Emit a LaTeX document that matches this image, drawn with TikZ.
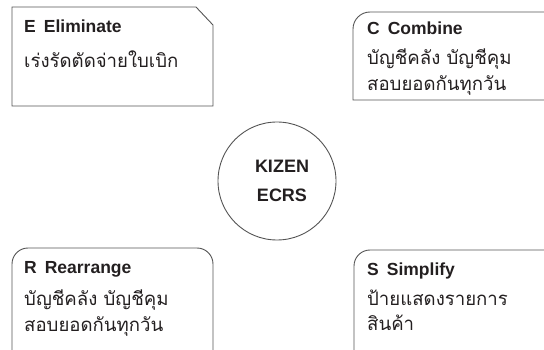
\documentclass[tikz,border=0pt]{standalone}
\usepackage{fontspec}
\setmainfont{Liberation Sans}
\newfontfamily\thaifont[Script=Thai]{Loma}
\definecolor{ink}{HTML}{231F20}
\definecolor{edge}{HTML}{555555}
\begin{document}
\begin{tikzpicture}[x=1pt,y=-1pt,
  box/.style={draw=edge, line width=0.9pt},
  ttl/.style={anchor=base west, inner sep=0pt, text=ink, font=\bfseries\fontsize{17.5}{20}\selectfont},
  th/.style={anchor=base west, inner sep=0pt, text=ink, font=\thaifont\fontsize{18.6}{22}\selectfont},
  ctr/.style={anchor=base, inner sep=0pt, text=ink, font=\bfseries\fontsize{18}{20}\selectfont}]
\useasboundingbox (0,0) rectangle (544,350);
% E box (chamfered top-right)
\draw[box] (12,106) -- (12,7) -- (196,7) -- (213,25) -- (213,106) -- cycle;
% C box (rounded top-left, open to the right)
\draw[box] (560,100) -- (353,100) -- (353,50) [rounded corners=17pt] -- (353,12) -- (560,12);
% R box
\draw[box, rounded corners=16pt] (12,362) -- (12,248) -- (213,248) -- (213,362);
% S box
\draw[box, rounded corners=16pt] (354,362) -- (354,250) -- (560,250);
% centre circle
\node[circle, draw=edge, line width=0.9pt, minimum size=118pt, inner sep=0pt] (hub) at (277,181) {};
\node[ctr] (kizen) at (282,173) {KIZEN};
\node[ctr] (ecrs) at (282,202) {ECRS};
% texts
\node[ttl] (et) at (24,33) {E\hspace{8pt}Eliminate};
\node[th] (e1) at (24,68) {เร่งรัดตัดจ่ายใบเบิก};
\node[ttl] (ct) at (367,35) {C\hspace{8pt}Combine};
\node[th] (c1) at (367,65) {บัญชีคลัง บัญชีคุม};
\node[th] (c2) at (367,91) {สอบยอดกันทุกวัน};
\node[ttl] (rt) at (24,273) {R\hspace{8pt}Rearrange};
\node[th] (r1) at (24,305) {บัญชีคลัง บัญชีคุม};
\node[th] (r2) at (24,331) {สอบยอดกันทุกวัน};
\node[ttl] (st) at (367,275) {S\hspace{8pt}Simplify};
\node[th] (s1) at (367,305) {ป้ายแสดงรายการ};
\node[th] (s2) at (367,330) {สินค้า};
\end{tikzpicture}
\end{document}
